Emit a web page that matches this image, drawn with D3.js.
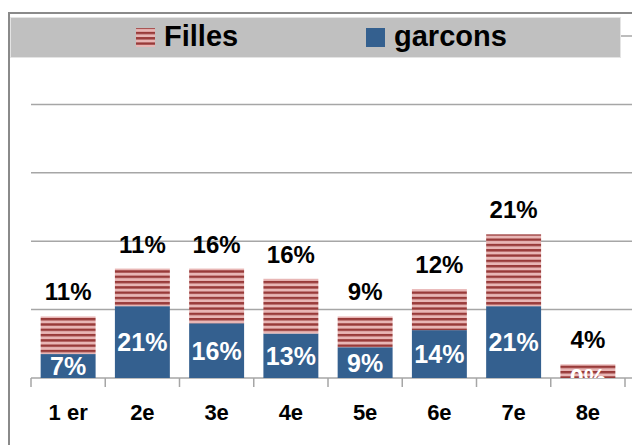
<!DOCTYPE html>
<html>
<head>
<meta charset="utf-8">
<script src="https://cdn.jsdelivr.net/npm/d3@7"></script>
<style>
  body { margin: 0; background: #fff; }
  text { font-family: "Liberation Sans", Arial, sans-serif; font-weight: bold; }
</style>
</head>
<body>
<script>
var width = 632,
    height = 445;

// data (percent)
var categories = ["1 er", "2e", "3e", "4e", "5e", "6e", "7e", "8e"];
var garcons = [7, 21, 16, 13, 9, 14, 21, 0];
var filles = [11, 11, 16, 16, 9, 12, 21, 4];
var gridTicks = [0.2, 0.4, 0.6, 0.8, 1.0];

var blue = "#34608f",
    darkRed = "#983a39",
    pink = "#e8b6b5";

var svg = d3.select('body')
  .append('svg')
  .attr('width', width)
  .attr('height', height);

var defs = svg.append('defs');

var stripes = defs.append('pattern')
  .attr('id', 'stripes')
  .attr('patternUnits', 'userSpaceOnUse')
  .attr('width', 8)
  .attr('height', 5.3);
stripes.append('rect').attr('width', 8).attr('height', 5.3).attr('fill', pink);
stripes.append('rect').attr('width', 8).attr('height', 2.4).attr('fill', darkRed);

defs.append('clipPath')
  .attr('id', 'plotClip')
  .append('rect')
  .attr('x', 0).attr('y', 0)
  .attr('width', width).attr('height', 378);

var x = d3.scaleBand()
  .domain(categories)
  .range([31, 625])
  .paddingInner(0.26)
  .paddingOuter(0.13);

var y = d3.scaleLinear()
  .domain([0, 1])
  .range([378, 36]);

// outer frame
svg.append('line')
  .attr('x1', 8).attr('x2', width)
  .attr('y1', 13).attr('y2', 13)
  .attr('stroke', '#8a8a8a').attr('stroke-width', 2);
svg.append('line')
  .attr('x1', 9).attr('x2', 9)
  .attr('y1', 12).attr('y2', height)
  .attr('stroke', '#8a8a8a').attr('stroke-width', 2);

// gridlines
svg.append('g')
  .selectAll('line')
  .data(gridTicks)
  .enter()
  .append('line')
  .attr('x1', 31)
  .attr('x2', width)
  .attr('y1', d => y(d))
  .attr('y2', d => y(d))
  .attr('stroke', '#a6a6a6')
  .attr('stroke-width', 1.5);

// x axis with ticks between categories
var xAxis = svg.append('g').attr('transform', 'translate(0,378)');
xAxis.append('line')
  .attr('x1', 31).attr('x2', width)
  .attr('y1', 0).attr('y2', 0)
  .attr('stroke', '#a6a6a6').attr('stroke-width', 1.5);
xAxis.selectAll('line.tick')
  .data(d3.range(categories.length + 1))
  .enter()
  .append('line')
  .attr('class', 'tick')
  .attr('x1', i => 31 + i * x.step())
  .attr('x2', i => 31 + i * x.step())
  .attr('y1', 0)
  .attr('y2', 9)
  .attr('stroke', '#a6a6a6')
  .attr('stroke-width', 1.5);
xAxis.selectAll('text')
  .data(categories)
  .enter()
  .append('text')
  .attr('x', d => x(d) + x.bandwidth() / 2)
  .attr('y', 42)
  .attr('text-anchor', 'middle')
  .attr('font-size', 22)
  .attr('fill', '#000')
  .text(d => d);

// bars
var bars = svg.append('g').attr('clip-path', 'url(#plotClip)');

bars.selectAll('rect.garcons')
  .data(categories)
  .enter()
  .append('rect')
  .attr('class', 'garcons')
  .attr('x', d => x(d))
  .attr('width', x.bandwidth())
  .attr('y', (d, i) => y(garcons[i] / 100))
  .attr('height', (d, i) => y(0) - y(garcons[i] / 100))
  .attr('fill', blue);

bars.selectAll('rect.filles')
  .data(categories)
  .enter()
  .append('rect')
  .attr('class', 'filles')
  .attr('x', d => x(d))
  .attr('width', x.bandwidth())
  .attr('y', (d, i) => y((garcons[i] + filles[i]) / 100))
  .attr('height', (d, i) => y(garcons[i] / 100) - y((garcons[i] + filles[i]) / 100))
  .attr('fill', 'url(#stripes)');

// white labels inside the garcons part
bars.selectAll('text.garcons')
  .data(categories)
  .enter()
  .append('text')
  .attr('class', 'garcons')
  .attr('x', d => x(d) + x.bandwidth() / 2)
  .attr('y', (d, i) => (y(0) + y(garcons[i] / 100)) / 2 + 9)
  .attr('text-anchor', 'middle')
  .attr('font-size', 25)
  .attr('fill', '#fff')
  .text((d, i) => garcons[i] + '%');

// filles labels above the bars
svg.append('g')
  .selectAll('text')
  .data(categories)
  .enter()
  .append('text')
  .attr('x', d => x(d) + x.bandwidth() / 2)
  .attr('y', (d, i) => y((garcons[i] + filles[i]) / 100) - 16)
  .attr('text-anchor', 'middle')
  .attr('font-size', 24)
  .attr('fill', '#000')
  .text((d, i) => filles[i] + '%');

// legend
var legend = svg.append('g');
legend.append('rect')
  .attr('x', 10.5).attr('y', 17.5)
  .attr('width', 610).attr('height', 40)
  .attr('fill', '#c0c0c0')
  .attr('stroke', '#e4e4e4')
  .attr('stroke-width', 1);

var legendItems = [
  { name: "Filles", fill: 'url(#stripes)', x: 136 },
  { name: "garcons", fill: blue, x: 366 }
];
legend.selectAll('rect.key')
  .data(legendItems)
  .enter()
  .append('rect')
  .attr('class', 'key')
  .attr('x', d => d.x)
  .attr('y', 28)
  .attr('width', 19)
  .attr('height', 19)
  .attr('fill', d => d.fill);
legend.selectAll('text')
  .data(legendItems)
  .enter()
  .append('text')
  .attr('x', d => d.x + 28)
  .attr('y', 46)
  .attr('font-size', 29)
  .attr('fill', '#000')
  .text(d => d.name);
</script>
</body>
</html>
